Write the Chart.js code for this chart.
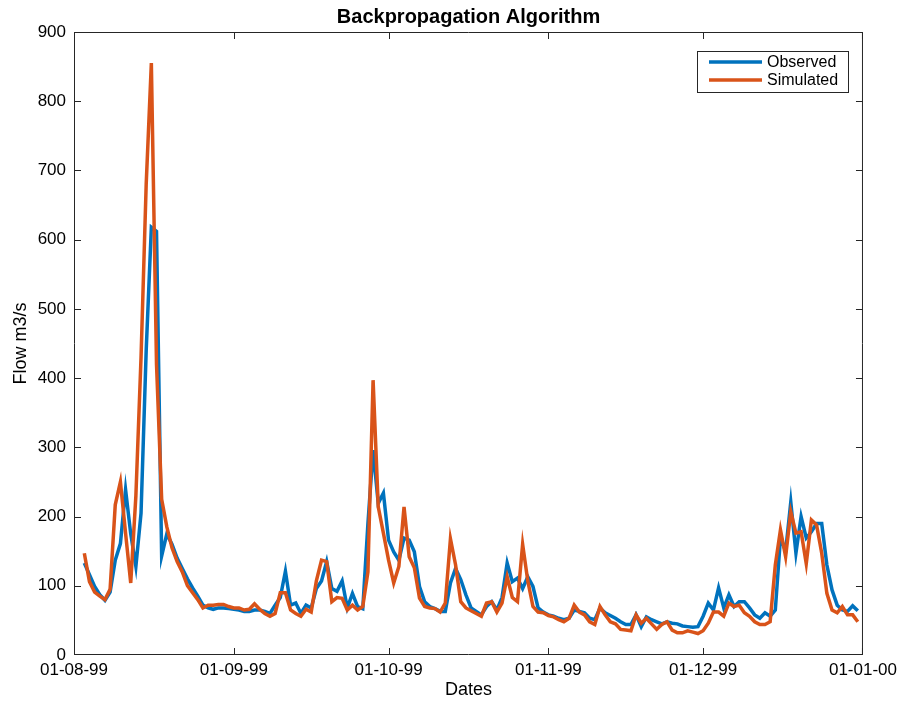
<!DOCTYPE html>
<html>
<head>
<meta charset="utf-8">
<title>Backpropagation Algorithm</title>
<script src="https://cdn.jsdelivr.net/npm/chart.js@4.4.1/dist/chart.umd.min.js"></script>
<style>
  html, body { margin: 0; padding: 0; background: #fff; }
  #flowChart { display: block; }
</style>
</head>
<body>
<canvas id="flowChart" width="902" height="702"></canvas>
<script>
// daily flow from 03-08-99 to 31-12-99, x is days after 01-08-99
var firstDay = 2;

var observed = [
  133, 116, 99, 87, 79, 91, 137, 161, 239, 175, 128, 205, 440, 618, 612, 143, 175, 160, 140, 125,
  110, 97, 85, 72, 68, 66, 68, 68, 67, 66, 65, 63, 63, 65, 65, 63, 60, 72, 83, 121,
  72, 75, 60, 72, 68, 96, 107, 135, 96, 92, 107, 68, 89, 70, 67, 190, 296, 219, 234, 166,
  149, 137, 169, 166, 149, 99, 77, 70, 67, 63, 63, 104, 125, 109, 87, 68, 63, 58, 70, 77,
  65, 83, 133, 106, 111, 96, 113, 99, 68, 62, 58, 56, 53, 51, 53, 65, 63, 61, 53, 51,
  68, 61, 57, 53, 48, 44, 44, 58, 41, 55, 51, 48, 45, 48, 46, 45, 42, 41, 40, 41,
  56, 75, 65, 97, 68, 87, 70, 77, 77, 68, 58, 53, 61, 56, 65, 170, 150, 221, 147, 200,
  169, 178, 190, 190, 130, 94, 72, 65, 63, 71, 64
];

var simulated = [
  147, 106, 91, 85, 80, 95, 217, 250, 176, 104, 230, 430, 680, 855, 420, 225, 185, 155, 135, 120,
  100, 90, 80, 68, 72, 72, 73, 73, 70, 68, 68, 65, 66, 74, 66, 60, 56, 60, 90, 90,
  65, 60, 56, 66, 62, 107, 137, 135, 77, 83, 82, 65, 72, 65, 70, 120, 397, 214, 176, 137,
  104, 128, 214, 142, 126, 82, 70, 68, 67, 62, 75, 168, 130, 77, 68, 64, 60, 56, 75, 77,
  62, 75, 113, 83, 77, 160, 107, 70, 62, 61, 57, 55, 51, 48, 53, 72, 62, 58, 48, 44,
  70, 58, 48, 45, 37, 36, 35, 58, 46, 53, 45, 37, 44, 48, 36, 32, 32, 35, 33, 31,
  35, 46, 62, 62, 56, 75, 70, 72, 61, 56, 48, 44, 44, 48, 130, 181, 142, 207, 176, 178,
  132, 195, 188, 147, 89, 65, 61, 70, 58, 58, 48
];

var tickDays = [0, 31, 61, 92, 122, 153];
var tickLabels = ['01-08-99', '01-09-99', '01-10-99', '01-11-99', '01-12-99', '01-01-00'];

var axisColor = '#262626';

function toPoints(values) {
  var pts = [];
  for (var i = 0; i < values.length; i++) {
    pts.push({x: firstDay + i, y: values[i]});
  }
  return pts;
}

// matlab style box, inward ticks and legend
var axesBox = {
  id: 'axesBox',
  afterDatasetsDraw: function(chart) {
    var ctx = chart.ctx;
    var a = chart.chartArea;
    var xs = chart.scales.x;
    var ys = chart.scales.y;
    var tick = 7;

    ctx.save();
    ctx.strokeStyle = axisColor;
    ctx.lineWidth = 1;
    ctx.beginPath();
    ctx.rect(a.left + 0.5, a.top + 0.5, a.right - a.left - 1, a.bottom - a.top - 1);
    ys.ticks.forEach(function(t) {
      var y = Math.round(ys.getPixelForValue(t.value)) + 0.5;
      y = Math.min(Math.max(y, a.top + 0.5), a.bottom - 0.5);
      ctx.moveTo(a.left, y);
      ctx.lineTo(a.left + tick, y);
      ctx.moveTo(a.right, y);
      ctx.lineTo(a.right - tick, y);
    });
    xs.ticks.forEach(function(t) {
      var x = Math.round(xs.getPixelForValue(t.value)) + 0.5;
      x = Math.min(Math.max(x, a.left + 0.5), a.right - 0.5);
      ctx.moveTo(x, a.bottom);
      ctx.lineTo(x, a.bottom - tick);
      ctx.moveTo(x, a.top);
      ctx.lineTo(x, a.top + tick);
    });
    ctx.stroke();

    // legend
    var bx = 697, by = 51, bw = 151, bh = 41;
    ctx.fillStyle = '#fff';
    ctx.fillRect(bx, by, bw, bh);
    ctx.strokeRect(bx + 0.5, by + 0.5, bw, bh);
    ctx.font = '16px "Liberation Sans", Arial, sans-serif';
    ctx.textBaseline = 'middle';
    ctx.textAlign = 'left';
    chart.data.datasets.forEach(function(ds, i) {
      var y = by + 11 + i * 18;
      ctx.strokeStyle = ds.borderColor;
      ctx.lineWidth = 3.5;
      ctx.beginPath();
      ctx.moveTo(bx + 12, y);
      ctx.lineTo(bx + 65, y);
      ctx.stroke();
      ctx.fillStyle = '#000';
      ctx.fillText(ds.label, bx + 70, y + 1);
    });
    ctx.restore();
  }
};

Chart.defaults.font.family = '"Liberation Sans", Arial, sans-serif';
Chart.defaults.color = '#000';

var flowChart = new Chart(document.getElementById('flowChart'), {
  type: 'line',
  data: {
    datasets: [
      {
        label: 'Observed',
        data: toPoints(observed),
        borderColor: '#0072BD',
        borderWidth: 3.5,
        pointRadius: 0,
        tension: 0,
        order: 2
      },
      {
        label: 'Simulated',
        data: toPoints(simulated),
        borderColor: '#D95319',
        borderWidth: 3.5,
        pointRadius: 0,
        tension: 0,
        order: 1
      }
    ]
  },
  options: {
    responsive: false,
    animation: false,
    devicePixelRatio: 1,
    layout: {
      padding: {top: 0, right: 37, bottom: 0, left: 0}
    },
    scales: {
      x: {
        type: 'linear',
        min: 0,
        max: 153,
        grid: {display: false, drawTicks: false},
        border: {display: false},
        afterBuildTicks: function(scale) {
          scale.ticks = tickDays.map(function(d) { return {value: d}; });
        },
        afterFit: function(scale) {
          scale.height = 47;
        },
        ticks: {
          autoSkip: false,
          maxRotation: 0,
          padding: 5,
          font: {size: 17},
          callback: function(value) {
            return tickLabels[tickDays.indexOf(value)];
          }
        },
        title: {
          display: true,
          text: 'Dates',
          font: {size: 18},
          padding: {top: 0, bottom: 1}
        }
      },
      y: {
        min: 0,
        max: 900,
        grid: {display: false, drawTicks: false},
        border: {display: false},
        afterFit: function(scale) {
          scale.width = 74;
        },
        ticks: {
          stepSize: 100,
          padding: 8,
          font: {size: 17}
        },
        title: {
          display: true,
          text: 'Flow m3/s',
          font: {size: 18},
          padding: {top: 10, bottom: 0}
        }
      }
    },
    plugins: {
      legend: {display: false},
      tooltip: {enabled: false},
      title: {
        display: true,
        text: 'Backpropagation Algorithm',
        fullSize: false,
        color: '#000',
        font: {size: 20, weight: 'bold'},
        padding: {top: 5, bottom: 3}
      }
    }
  },
  plugins: [axesBox]
});
</script>
</body>
</html>
